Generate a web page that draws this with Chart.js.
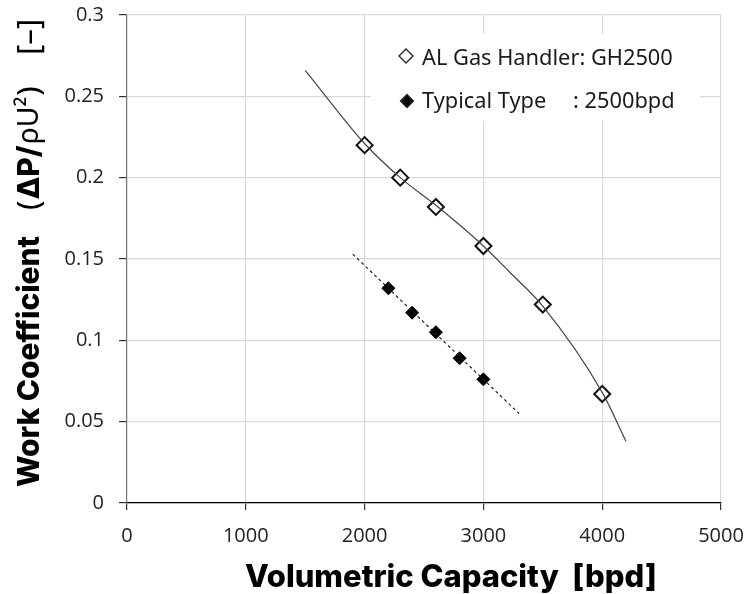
<!DOCTYPE html>
<html>
<head>
    <title>Work Coefficient vs Volumetric Capacity</title>
    <script src="https://cdn.jsdelivr.net/npm/chart.js"></script>
    <style>
        body { margin: 0; background: #fff; }
        #wrap { width: 750px; height: 594px; }
    </style>
</head>
<body>
    <div id="wrap"><canvas id="chart" width="750" height="594"></canvas></div>

    <script>
        // AL Gas Handler GH2500 - measured points
        const ghX = [2000, 2300, 2600, 3000, 3500, 4000];
        const ghY = [0.220, 0.200, 0.182, 0.158, 0.122, 0.067];
        // trend curve
        const ghCurveX = [1500, 2000, 2300, 2600, 3000, 3220, 3500, 4000, 4200];
        const ghCurveY = [0.266, 0.221, 0.200, 0.183, 0.158, 0.142, 0.121, 0.068, 0.038];

        // Typical type 2500bpd
        const typX = [2200, 2400, 2600, 2800, 3000];
        const typY = [0.132, 0.117, 0.105, 0.089, 0.076];
        const typLineX = [1900, 3300];
        const typLineY = [0.153, 0.055];

        const xTicks = [0, 1000, 2000, 3000, 4000, 5000];
        const yTicks = [0, 0.05, 0.1, 0.15, 0.2, 0.25, 0.3];

        const legendLabels = ['AL Gas Handler: GH2500', 'Typical Type', ': 2500bpd'];

        const pts = (xs, ys) => xs.map((x, i) => ({ x: x, y: ys[i] }));

        const boldFam = '"Inter", "Liberation Sans", sans-serif';
        const textFam = '"Noto Sans", "Open Sans", sans-serif';

        function fitFont(ctx, text, weight, family, width) {
            ctx.font = weight + ' 20px ' + family;
            const w = ctx.measureText(text).width;
            return 20 * width / w;
        }

        function diamond(ctx, x, y, r, fill) {
            ctx.beginPath();
            ctx.moveTo(x, y - r);
            ctx.lineTo(x + r, y);
            ctx.lineTo(x, y + r);
            ctx.lineTo(x - r, y);
            ctx.closePath();
            ctx.fillStyle = fill ? '#000' : '#fff';
            ctx.fill();
            ctx.lineWidth = 1.3;
            ctx.strokeStyle = '#222';
            ctx.stroke();
        }

        const extras = {
            id: 'extras',
            beforeDatasetsDraw(chart) {
                const ctx = chart.ctx;
                ctx.save();
                // legend box
                ctx.fillStyle = '#fff';
                ctx.fillRect(371, 34, 329, 87);
                diamond(ctx, 406, 56, 7, false);
                diamond(ctx, 407, 101, 6.5, true);
                ctx.fillStyle = '#1a1a1a';
                ctx.textBaseline = 'alphabetic';
                ctx.textAlign = 'left';
                let s = fitFont(ctx, legendLabels[0], 'normal', textFam, 251);
                ctx.font = 'normal ' + s + 'px ' + textFam;
                ctx.fillText(legendLabels[0], 422, 65);
                ctx.fillText(legendLabels[1], 422, 108);
                ctx.fillText(legendLabels[2], 573, 108);
                ctx.restore();
            },
            afterDraw(chart) {
                const ctx = chart.ctx;
                ctx.save();
                ctx.fillStyle = '#000';
                ctx.textBaseline = 'middle';
                ctx.textAlign = 'left';
                // x title
                const xt = 'Volumetric Capacity  [bpd]';
                let s = fitFont(ctx, xt, '800', boldFam, 412);
                ctx.font = '800 ' + s + 'px ' + boldFam;
                ctx.fillText(xt, 245, 578);
                // y title, rotated
                ctx.translate(30, 487);
                ctx.rotate(-Math.PI / 2);
                const yt = 'Work Coefficient';
                s = fitFont(ctx, yt, '800', boldFam, 251);
                ctx.font = '800 ' + s + 'px ' + boldFam;
                ctx.fillText(yt, 0, 0);
                let x = 277;
                const parts = [
                    ['(', 'normal', textFam, 1.05],
                    ['\u0394P/', '800', boldFam, 1],
                    ['\u03C1U\u00B2', 'normal', textFam, 0.95],
                    [')', 'normal', textFam, 1.05]
                ];
                parts.forEach(p => {
                    ctx.font = p[1] + ' ' + (s * p[3]) + 'px ' + p[2];
                    ctx.fillText(p[0], x, 0);
                    x += ctx.measureText(p[0]).width + 1;
                });
                ctx.font = 'normal ' + (s * 1.05) + 'px ' + textFam;
                ctx.fillText('[\u2013]', 432, 0);
                ctx.restore();
            }
        };

        new Chart(document.getElementById('chart'), {
            type: 'scatter',
            data: {
                datasets: [
                    {
                        label: 'GH2500 trend',
                        data: pts(ghCurveX, ghCurveY),
                        showLine: true,
                        cubicInterpolationMode: 'monotone',
                        borderColor: '#444',
                        borderWidth: 1.2,
                        pointRadius: 0
                    },
                    {
                        label: 'Typical trend',
                        data: pts(typLineX, typLineY),
                        showLine: true,
                        borderColor: '#222',
                        borderWidth: 1.2,
                        borderDash: [3, 3],
                        pointRadius: 0
                    },
                    {
                        label: legendLabels[0],
                        data: pts(ghX, ghY),
                        pointStyle: 'rectRot',
                        pointRadius: 8,
                        pointBackgroundColor: '#fff',
                        pointBorderColor: '#111',
                        pointBorderWidth: 2
                    },
                    {
                        label: 'Typical Type : 2500bpd',
                        data: pts(typX, typY),
                        pointStyle: 'rectRot',
                        pointRadius: 6.5,
                        pointBackgroundColor: '#000',
                        pointBorderColor: '#000',
                        pointBorderWidth: 1
                    }
                ]
            },
            options: {
                responsive: false,
                animation: false,
                layout: { padding: { left: 0, top: 15, right: 29, bottom: 0 } },
                plugins: {
                    legend: { display: false },
                    tooltip: { enabled: false }
                },
                scales: {
                    x: {
                        type: 'linear',
                        min: 0,
                        max: 5000,
                        afterBuildTicks: s => { s.ticks = xTicks.map(v => ({ value: v })); },
                        afterFit: s => { s.height = 91; s.paddingLeft = 0; s.paddingRight = 0; },
                        border: { color: '#000', width: 1.2 },
                        grid: { color: '#d9d9d9', lineWidth: 1.2, tickColor: '#333', tickLength: 7 },
                        ticks: {
                            padding: 14,
                            color: '#222',
                            font: { family: '"Open Sans", sans-serif', size: 20 },
                            callback: v => String(v)
                        }
                    },
                    y: {
                        type: 'linear',
                        min: 0,
                        max: 0.3,
                        afterBuildTicks: s => { s.ticks = yTicks.map(v => ({ value: v })); },
                        afterFit: s => { s.width = 127; s.paddingTop = 0; s.paddingBottom = 0; },
                        border: { color: '#777', width: 1.2 },
                        grid: { color: '#d9d9d9', lineWidth: 1.2, tickColor: '#333', tickLength: 8 },
                        ticks: {
                            padding: 15,
                            color: '#222',
                            font: { family: '"Open Sans", sans-serif', size: 20 },
                            callback: v => String(v)
                        }
                    }
                }
            },
            plugins: [extras]
        });
    </script>
</body>
</html>
